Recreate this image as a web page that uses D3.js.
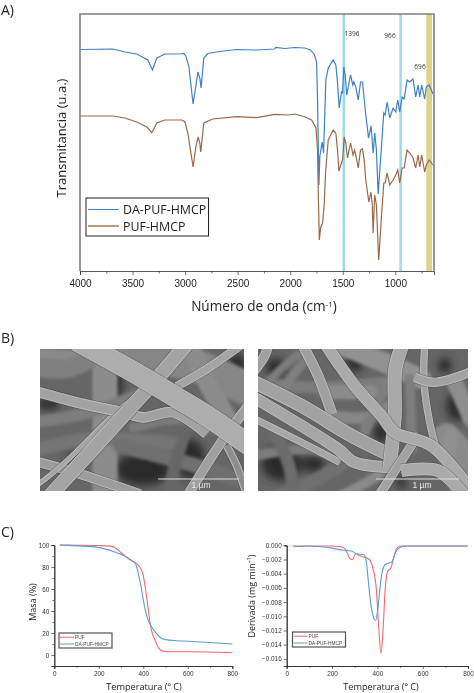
<!DOCTYPE html>
<html><head><meta charset="utf-8">
<script src="https://cdnjs.cloudflare.com/ajax/libs/d3/7.8.5/d3.min.js"></script>
<style>html,body{margin:0;padding:0;background:#fff}svg{display:block;filter:blur(.35px)}</style></head>
<body><svg id="c" width="474" height="693"></svg>
<script>
// ---------- Panel A: FTIR spectra
const waveBlue=[4000,3687,3573,3459,3354,3311,3269,3193,3050,3012,2993,2965,2924,2898,2879,2860,2848,2822,2784,2670,2509,2319,2148,2139,2053,1958,1863,1806,1768,1749,1740,1727,1718,1695,1683,1661,1638,1591,1566,1550,1534,1512,1502,1490,1477,1462,1426,1405,1395,1376,1353,1331,1312,1284,1255,1230,1211,1196,1180,1163,1110,1097,1078,1053,1021,996,977,958,935,916,888,863,831,806,783,768,749,721,705,679,641];
const transBlue=[221.5,222,219,217,211,201,213,217,217,217.5,215,205,167,185,199,193,183,213,217.5,219.5,221.5,221,222,223.5,222.5,223.5,223,221,216,209,171,86,115,129,118,191,203,211,206,188,163,179,178,204,196,176,196,186,189,184,171,189,189,159,133,145,118,138,121,77,158,156,169,153,163,159,171,159,174,172,191,189,192,174,186,174,186,172,184,186,177];
const waveBrown=[4000,3687,3573,3459,3364,3316,3269,3193,3031,3003,2974,2924,2898,2876,2860,2851,2822,2737,2509,2319,2148,2018,1958,1863,1796,1755,1740,1733,1723,1711,1692,1676,1664,1654,1638,1591,1566,1550,1537,1512,1502,1486,1471,1455,1426,1402,1387,1372,1353,1331,1312,1296,1281,1252,1233,1220,1211,1196,1180,1158,1132,1110,1097,1078,1053,1021,996,977,958,935,916,888,863,831,806,783,768,749,721,705,679,641];
const transBrown=[155,155,153,149,144,138.3,148,151,151,149.3,138,104,124,134,128,119,148,152,154.3,153.3,156.7,156,157,154.3,151,143,121,78,31,43,48,68,98,111,131,141,138,121,100,108,111,134,128,113,128,116,121,114,103,121,122,111,91,69,79,68,38,76,66,11,54,88,88,98,86,91,96,101,88,103,103,121,118,113,103,116,104,116,99,106,111,106];
const spectraNames=["DA-PUF-HMCP","PUF-HMCP"];
const bandsCyan=[[1502,1478],[962,938]];
const bandsKhaki=[[705,651]];
const peakWave=[1396,966,696];
const waveTicks=[4000,3500,3000,2500,2000,1500,1000];
const waveMinor=[3750,3250,2750,2250,1750,1250,750];

// ---------- Panel C: thermogravimetry
const tgaT1=[25,100,200,250,270,300,340,370,390,400,410,420,430,440,450,470,490,520,600,800];
const tgaPUF=[100,99.8,99.5,99,98,93,86.5,83,78,72,60,45,30,20,15,6,3.5,3,3,2];
const tgaT2=[25,100,175,225,275,300,340,365,380,390,400,415,430,450,480,500,550,600,700,800];
const tgaDA=[100,99.2,98.5,96.5,93.5,91.5,87,83,72,62,50,36,28,22,15.5,14,13,12.5,11.3,10];
const dtgT1=[25,100,200,240,260,280,290,305,320,345,365,380,395,405,416,425,435,445,460,470,485,500,800];
const dtgPUF=[-0.0001,-0.0001,-0.0001,-0.0002,-0.0006,-0.0019,-0.002,-0.0012,-0.0014,-0.0017,-0.002,-0.0032,-0.006,-0.011,-0.0152,-0.012,-0.006,-0.0037,-0.0032,-0.002,-0.0005,-0.0001,-0.0001];
const dtgT2=[30,100,150,200,250,285,310,340,350,360,370,380,392,400,410,420,435,450,465,480,500,530,795];
const dtgDA=[-0.0002,-0.0001,-0.0002,-0.0004,-0.0007,-0.0008,-0.0012,-0.0013,-0.002,-0.005,-0.008,-0.0098,-0.0106,-0.0095,-0.0065,-0.004,-0.0027,-0.0025,-0.0023,-0.001,-0.0003,-0.0001,-0.0001];
const tempTicks=[0,200,400,600,800];
const tempMinor=[100,300,500,700];
const massTicks=[0,20,40,60,80,100];
const massMinor=[10,30,50,70,90,-10];
const derivTicks=[0,-0.002,-0.004,-0.006,-0.008,-0.01,-0.012,-0.014,-0.016];
const tgaNames=["PUF","DA-PUF-HMCP"];

// ---------- Panel B: micrographs, fibres in picture units (612x426 and 630x426)
const holesLeft=[[310,360,85,50],[450,330,45,60],[590,60,30,45],[25,165,35,18],[230,100,18,60],[120,320,45,10]];
const leftBack=[
 {w:32,g:"#8a8a8a",p:[[-20,12],[100,18],[210,12]]},
 {w:100,g:"#868686",p:[[260,20],[450,45],[640,130]]},
 {w:75,g:"#8c8c8c",p:[[195,-10],[195,436]]},
 {w:35,g:"#7e7e7e",p:[[-20,220],[150,190],[310,130]]},
 {w:55,g:"#808080",p:[[-20,55],[80,60],[150,30]]},
 {w:40,g:"#757575",p:[[-20,305],[150,270],[420,285]]},
 {w:45,g:"#6f6f6f",p:[[240,290],[450,345],[640,405]]},
 {w:36,g:"#666666",p:[[435,250],[405,350],[385,440]]},
 {w:55,g:"#8c8c8c",p:[[450,-10],[500,100],[565,210]]},
 {w:30,g:"#7a7a7a",p:[[280,235],[430,210],[560,255]]}
];
const leftFront=[
 {w:30,g:"#9c9c9c",p:[[-20,335],[120,375],[300,436]]},
 {w:16,g:"#a6a6a6",p:[[-10,410],[70,345],[240,180],[310,130]]},
 {w:30,g:"#a0a0a0",p:[[445,436],[540,285],[625,170]]},
 {w:24,g:"#8e8e8e",p:[[560,290],[590,350],[620,436]]},
 {w:32,g:"#a2a2a2",p:[[-20,125],[130,165],[250,190],[310,205],[400,190],[500,255]]},
 {w:26,g:"#a4a4a4",p:[[410,112],[500,60],[600,-10]]},
 {w:44,g:"#a4a4a4",p:[[30,440],[150,310],[250,200],[350,90],[440,-15]]},
 {w:64,g:"#adadad",p:[[110,-25],[300,80],[400,140],[500,200],[630,290]]}
];
const holesRight=[[70,345,60,50],[165,345,35,25],[55,55,30,28],[600,170,35,45],[370,250,25,30],[560,50,20,25],[290,35,25,35],[430,400,15,20]];
const rightBack=[
 {w:60,g:"#929292",p:[[250,-10],[390,45],[490,90]]},
 {w:35,g:"#7c7c7c",p:[[60,110],[180,115],[400,100]]},
 {w:42,g:"#8c8c8c",p:[[200,130],[340,130]]},
 {w:35,g:"#868686",p:[[220,200],[330,205],[400,170]]},
 {w:32,g:"#7e7e7e",p:[[320,245],[380,120],[405,80]]},
 {w:30,g:"#7c7c7c",p:[[-10,320],[150,300],[210,315]]},
 {w:40,g:"#707070",p:[[60,440],[180,390],[265,335]]},
 {w:38,g:"#6c6c6c",p:[[50,250],[90,340],[105,410]]},
 {w:25,g:"#7c7c7c",p:[[25,105],[80,50],[125,15]]},
 {w:26,g:"#808080",p:[[70,125],[120,60],[150,30]]},
 {w:30,g:"#7e7e7e",p:[[455,90],[462,300]]},
 {w:85,g:"#8a8a8a",p:[[565,265],[640,345]]},
 {w:50,g:"#8e8e8e",p:[[590,100],[640,210]]},
 {w:45,g:"#909090",p:[[600,420],[570,330],[580,260]]},
 {w:30,g:"#8a8a8a",p:[[250,440],[350,385],[390,350]]}
];
const rightFront=[
 {w:32,g:"#a0a0a0",p:[[135,-10],[180,80],[222,195]]},
 {w:30,g:"#a0a0a0",p:[[-15,70],[20,20],[30,-10]]},
 {w:42,g:"#a2a2a2",p:[[-20,95],[130,170],[280,260],[390,315]]},
 {w:22,g:"#a6a6a6",p:[[-20,205],[130,280],[245,340]]},
 {w:36,g:"#a6a6a6",p:[[-20,140],[130,230],[240,300],[290,340],[405,355]]},
 {w:42,g:"#a8a8a8",p:[[432,-10],[412,60],[410,200],[395,355]]},
 {w:22,g:"#a2a2a2",p:[[500,-10],[498,100],[515,220],[535,300]]},
 {w:28,g:"#a2a2a2",p:[[640,68],[530,100],[470,85]]},
 {w:28,g:"#a2a2a2",p:[[365,436],[440,320],[482,255]]},
 {w:36,g:"#aaaaaa",p:[[205,-10],[290,110],[370,200],[410,250],[520,290],[640,425]]},
 {w:38,g:"#aaaaaa",p:[[430,365],[540,365],[615,436]]}
];
const scaleLabel="1 µm";

const svg=d3.select("#c");
const defs=svg.append("defs");
defs.append("filter").attr("id","soft").append("feGaussianBlur").attr("stdDeviation",0.45);
defs.append("filter").attr("id","softer").append("feGaussianBlur").attr("stdDeviation",1.5);
defs.append("filter").attr("id","softest").append("feGaussianBlur").attr("stdDeviation",4);
const sansTitle="'Open Sans','Noto Sans',sans-serif", sansTick="'Liberation Sans',Arial,sans-serif";

function letter(t,x,y){svg.append("text").attr("x",x).attr("y",y).attr("font-family",sansTitle).attr("font-size",14).attr("fill","#222").text(t);}
letter("A)",1,15);letter("B)",1,343);letter("C)",1,537);

// ----- Panel A
const xA=d3.scaleLinear().domain([4000,632]).range([80,434]);
const yA=d3.scaleLinear().domain([0,257]).range([271,14]);
const gA=svg.append("g");
bandsCyan.forEach(b=>gA.append("rect").attr("x",xA(b[0])).attr("width",xA(b[1])-xA(b[0])).attr("y",yA(257)).attr("height",yA(0)-yA(257)).attr("fill","#9bdbe8"));
bandsKhaki.forEach(b=>gA.append("rect").attr("x",xA(b[0])).attr("width",xA(b[1])-xA(b[0])).attr("y",yA(257)).attr("height",yA(0)-yA(257)).attr("fill","#ded488"));
const lineA=d3.line().curve(d3.curveLinear);
gA.append("path").attr("d",lineA(waveBlue.map((w,i)=>[xA(w),yA(transBlue[i])]))).attr("fill","none").attr("stroke","#3f80c4").attr("stroke-width",1.2);
gA.append("path").attr("d",lineA(waveBrown.map((w,i)=>[xA(w),yA(transBrown[i])]))).attr("fill","none").attr("stroke","#96694a").attr("stroke-width",1.2);
gA.append("path").attr("d",`M${xA.range()[0]},${yA(0)}V${yA(257)}H${xA.range()[1]}V${yA(0)}`).attr("fill","none").attr("stroke","#808080").attr("stroke-width",1.6);
const axA=gA.append("g").attr("transform",`translate(0,${yA(0)})`).call(d3.axisBottom(xA).tickValues(waveTicks).tickSize(4).tickPadding(5).tickFormat(d3.format("d")));
axA.select(".domain").attr("stroke","#333").attr("stroke-width",.8);
axA.selectAll("line").attr("stroke","#333").attr("stroke-width",.7);
axA.selectAll("text").attr("font-family",sansTick).attr("font-size",10).attr("fill","#222");
gA.append("g").attr("transform",`translate(0,${yA(0)})`).call(d3.axisBottom(xA).tickValues(waveMinor).tickSize(2.5).tickFormat("")).call(g=>{g.select(".domain").remove();g.selectAll("line").attr("stroke","#333").attr("stroke-width",.7);});
peakWave.forEach((p,i)=>gA.append("text").attr("x",[352,390,420][i]).attr("y",[36,38,69][i]).attr("text-anchor","middle").attr("font-family",sansTitle).attr("font-size",6.6).attr("fill","#333").text(p));
svg.append("text").attr("transform","translate(66,138) rotate(-90)").attr("text-anchor","middle").attr("font-family",sansTitle).attr("font-size",13).attr("fill","#222").text("Transmitancia (u.a.)");
const tA=svg.append("text").attr("x",264).attr("y",311).attr("text-anchor","middle").attr("font-family",sansTitle).attr("font-size",13.6).attr("fill","#222");
tA.append("tspan").text("Número de onda (cm");tA.append("tspan").attr("font-size",8).attr("dy",-4).text("-1");tA.append("tspan").attr("dy",4).text(")");
gA.append("rect").attr("x",86).attr("y",198).attr("width",122.5).attr("height",38).attr("fill","#fff").attr("stroke","#222").attr("stroke-width",1);
[["#3f80c4",209.5,1],["#a98560",226,1.6]].forEach((d,i)=>{
 gA.append("line").attr("x1",88).attr("x2",119).attr("y1",d[1]).attr("y2",d[1]).attr("stroke",d[0]).attr("stroke-width",d[2]);
 gA.append("text").attr("x",123).attr("y",d[1]+4.6).attr("font-family",sansTitle).attr("font-size",12.4).attr("fill","#222").text(spectraNames[i]);
});

// ----- Panel B
function photo(x0,x1,y0,y1,uw,holes,back,front,id,barX0,barX1,labelX){
 const px=d3.scaleLinear().domain([0,uw]).range([x0,x1]), py=d3.scaleLinear().domain([0,426]).range([y0,y1]);
 const wScale=d3.scaleLinear().domain([0,uw]).range([0,x1-x0]);
 defs.append("clipPath").attr("id",id).append("rect").attr("x",x0).attr("y",y0).attr("width",x1-x0).attr("height",y1-y0);
 const g=svg.append("g").attr("clip-path",`url(#${id})`);
 g.append("rect").attr("x",x0).attr("y",y0).attr("width",x1-x0).attr("height",y1-y0).attr("fill","#666");
 const ln=d3.line().x(d=>px(d[0])).y(d=>py(d[1])).curve(d3.curveCatmullRom);
 const h=g.append("g").attr("filter","url(#softest)");
 holes.forEach(d=>h.append("ellipse").attr("cx",px(d[0])).attr("cy",py(d[1])).attr("rx",wScale(d[2])).attr("ry",wScale(d[3])).attr("fill","#2c2c2c"));
 const b=g.append("g").attr("filter","url(#softer)").attr("stroke-linecap","round");
 back.forEach(f=>{
  b.append("path").attr("d",ln(f.p)).attr("fill","none").attr("stroke",f.g).attr("stroke-width",wScale(f.w));
 });
 const inner=g.append("g").attr("filter","url(#soft)");
 front.forEach(f=>{
  const w=wScale(f.w);
  inner.append("path").attr("d",ln(f.p)).attr("fill","none").attr("stroke","#3c3c3c").attr("stroke-width",w+1.6).attr("opacity",.4);
  inner.append("path").attr("d",ln(f.p)).attr("fill","none").attr("stroke","#c2c2c2").attr("stroke-width",w);
  inner.append("path").attr("d",ln(f.p)).attr("fill","none").attr("stroke","#b0b0b0").attr("stroke-width",Math.max(w-1.2,1.5));
  inner.append("path").attr("d",ln(f.p)).attr("fill","none").attr("stroke",f.g).attr("stroke-width",Math.max(w-2.4,1.2));
 });
 g.append("line").attr("x1",barX0).attr("x2",barX1).attr("y1",479).attr("y2",479).attr("stroke","#ddd").attr("stroke-width",1);
 g.append("text").attr("x",labelX).attr("y",488).attr("text-anchor","middle").attr("font-family",sansTick).attr("font-size",8.5).attr("fill","#e8e8e8").text(scaleLabel);
}
photo(40,244,349,491,612,holesLeft,leftBack,leftFront,"p1",158,239,201);
photo(258,468,349,491,630,holesRight,rightBack,rightFront,"p2",376,459,422);

// ----- Panel C
function tg(cfg){
 const g=svg.append("g");
 const x=d3.scaleLinear().domain([0,800]).range(cfg.xr);
 const y=d3.scaleLinear().domain(cfg.yd).range(cfg.yr);
 const ln=d3.line().curve(d3.curveMonotoneX);
 const bottom=cfg.yr[0], left=cfg.xr[0];
 const ax=g.append("g").attr("transform",`translate(0,${bottom})`).call(d3.axisBottom(x).tickValues(tempTicks).tickSize(3).tickPadding(2).tickFormat(d3.format("d")));
 const ax2=g.append("g").attr("transform",`translate(0,${bottom})`).call(d3.axisBottom(x).tickValues(tempMinor).tickSize(1.8).tickFormat(""));
 const ay=g.append("g").attr("transform",`translate(${left},0)`).call(d3.axisLeft(y).tickValues(cfg.yt).tickSize(3).tickPadding(2).tickFormat(cfg.fmt));
 const ay2=g.append("g").attr("transform",`translate(${left},0)`).call(d3.axisLeft(y).tickValues(cfg.ym).tickSize(1.8).tickFormat(""));
 [ax,ax2,ay,ay2].forEach(a=>{a.select(".domain").attr("stroke","#333").attr("stroke-width",.9);a.selectAll("line").attr("stroke","#333").attr("stroke-width",.7);a.selectAll("text").attr("font-family",sansTick).attr("font-size",6.4).attr("fill","#333");});
 [[cfg.a,"#f4686c"],[cfg.b,"#5b9bd8"]].forEach(s=>{
  g.append("path").attr("d",ln(s[0][0].map((t,i)=>[x(t),y(s[0][1][i])]))).attr("fill","none").attr("stroke",s[1]).attr("stroke-width",1.1);
 });
 g.append("text").attr("transform",`translate(${cfg.yLabX},${cfg.yLabY}) rotate(-90)`).attr("text-anchor","middle").attr("font-family",sansTitle).attr("font-size",9).attr("fill","#222").text(cfg.yLab);
 g.append("text").attr("x",cfg.xLabX).attr("y",690).attr("text-anchor","middle").attr("font-family",sansTitle).attr("font-size",9.2).attr("fill","#222").text("Temperatura (º C)");
 const lx=cfg.leg[0], ly=cfg.leg[1];
 g.append("rect").attr("x",lx).attr("y",ly).attr("width",cfg.leg[2]).attr("height",15).attr("fill","#fff").attr("stroke","#555").attr("stroke-width",1.2);
 [["#f4686c",ly+4.2],["#5b9bd8",ly+11]].forEach((d,i)=>{
  g.append("line").attr("x1",lx+1).attr("x2",lx+15).attr("y1",d[1]).attr("y2",d[1]).attr("stroke",d[0]).attr("stroke-width",1);
  g.append("text").attr("x",lx+16).attr("y",d[1]+1.7).attr("font-family",sansTick).attr("font-size",4.8).attr("fill","#444").text(tgaNames[i]);
 });
}
tg({xr:[54.3,232.3],yd:[-10,100],yr:[666,545],yt:massTicks,ym:massMinor,fmt:d3.format("d"),
 a:[tgaT1,tgaPUF],b:[tgaT2,tgaDA],yLab:"Masa  (%)",yLabX:36,yLabY:602,xLabX:144,leg:[59,633,53]});
tg({xr:[286.7,468],yd:[-0.017,0],yr:[666,545.3],yt:derivTicks,ym:[],fmt:d3.format(".3f"),
 a:[dtgT1,dtgPUF],b:[dtgT2,dtgDA],yLab:"Derivada  (mg min⁻¹)",yLabX:255,yLabY:596,xLabX:381,leg:[292.5,632,53]});
</script></body></html>
